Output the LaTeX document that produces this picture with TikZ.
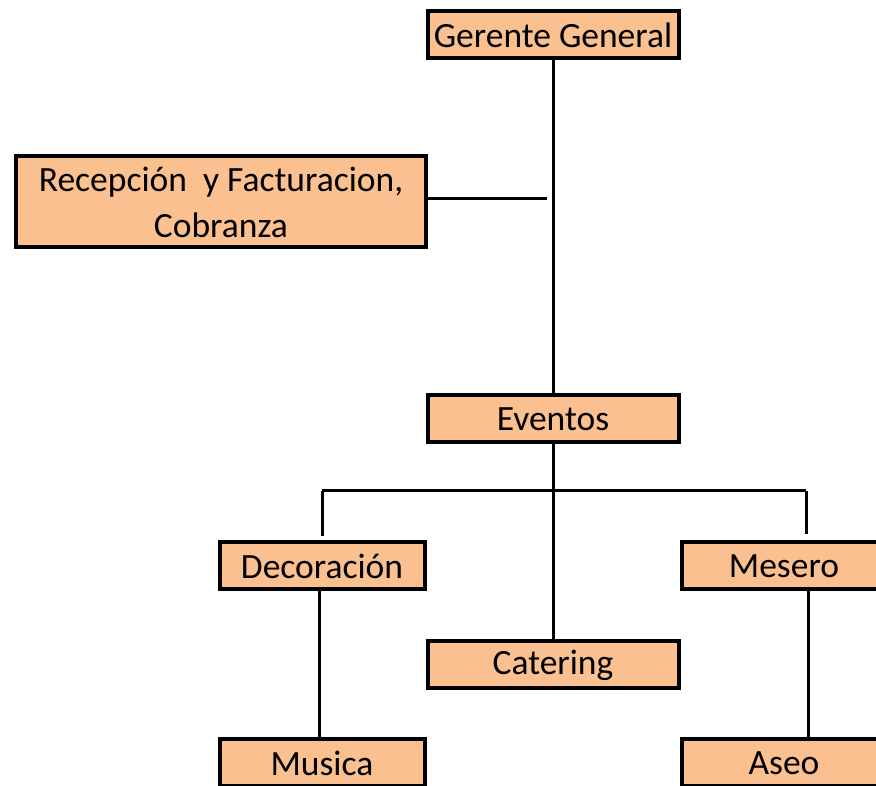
\documentclass[tikz,border=0pt]{standalone}
\usepackage{fontspec}
\setmainfont{Carlito}
\definecolor{peach}{HTML}{FAC08F}
\tikzset{
    box/.style =    {rectangle,
                    fill=peach,
                    draw=black,
                    text=black,
                    line width=4pt,
                    inner sep=0pt,
                    minimum width=205pt,
                    minimum height=47pt,
                    font=\fontsize{35.5}{46}\selectfont},
    wide/.style =   {minimum width=251pt},
    link/.style =   {line width=3pt},
    -,
    x=1pt, y=1pt}
\begin{document}
\begin{tikzpicture}
            \useasboundingbox (0,0) rectangle (876,786);
            \node[box,wide]     (GG)  at (553,751)      {Gerente General};
            \node[box,minimum width=410pt,minimum height=91pt,align=center]
                                (Rec) at (221,584)      {Recepción\ \ y Facturacion,\\Cobranza};
            \node[box,wide]     (Ev)  [below of=GG,node distance=384pt]  {Eventos};
            \node[box,wide]     (Cat) [below of=Ev,node distance=246pt]  {Catering};
            \node[box]          (Dec) at (322,220)      {Decoración};
            \node[box]          (Mes) [right of=Dec,node distance=462pt] {Mesero};
            \node[box]          (Mus) [below of=Dec,node distance=197pt] {Musica};
            \node[box]          (As)  [below of=Mes,node distance=197pt] {Aseo};

            % bus ends
            \coordinate (recend) at (547,587);
            \coordinate (busL)   at (322,295);
            \coordinate (busR)   at (806,295);

            \path [link]    (GG)  edge []   (Ev)
                            ([yshift=3pt]Rec.east) edge []   (recend)
                            (Ev)  edge []   (Cat)
                            (busL) edge []  (busR)
                            (busL) edge [shorten >=4pt]   (busL |- Dec.north)
                            (busR) edge [shorten >=6pt]   (busR |- Mes.north)
                            ([xshift=-3pt]Dec.south) edge []   ([xshift=-3pt]Mus.north)
                            ([xshift=24pt]Mes.south) edge []   ([xshift=24pt]As.north);
        \end{tikzpicture}
\end{document}
